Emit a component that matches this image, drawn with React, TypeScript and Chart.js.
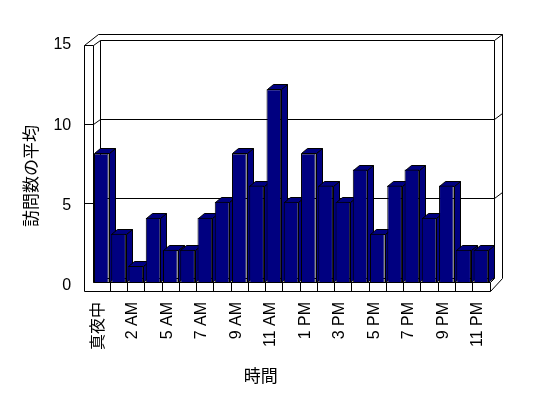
import React, { useEffect, useRef } from "react";
import { Chart, registerables } from "chart.js";

Chart.register(...registerables);

// ---- data ----
const categories = [
  "真夜中", "1 AM", "2 AM", "4 AM", "5 AM", "6 AM", "7 AM", "8 AM", "9 AM", "10 AM", "11 AM", "正午",
  "1 PM", "2 PM", "3 PM", "4 PM", "5 PM", "6 PM", "7 PM", "8 PM", "9 PM", "10 PM", "11 PM",
];
const visitAverages = [8, 3, 1, 4, 2, 2, 4, 5, 8, 6, 12, 5, 8, 6, 5, 7, 3, 6, 7, 4, 6, 2, 2];
const yTickValues = [0, 5, 10, 15];
const gridValues = [5, 10];
const xTitle = "時間";
const yTitle = "訪問数の平均";

// ---- styles ----
const FONT = '"Liberation Sans", "Noto Sans CJK JP", sans-serif';
const BAR_COLOR = "#000080";
const BAR_DX = 6;
const BAR_DY = -5;

const px = (v: number) => Math.round(v) + 0.5;

const threeD = {
  id: "threeD",
  beforeDatasetsDraw(chart: any) {
    const { ctx, chartArea } = chart;
    const { left: L, right: R, top: T, bottom: B } = chartArea;
    const ys = chart.scales.y;
    const bl = L + 7.5, br = R + 4, bt = T - 1, bb = B - 4.5;
    const k = (bb - bt) / (B - T);
    const yb = (v: number) => bb + (ys.getPixelForValue(v) - B) * k;
    const yf = (v: number) => yb(v) + 5;
    const OX = L - 8.5;
    const line = (pts: number[][]) => {
      ctx.beginPath();
      ctx.moveTo(px(pts[0][0]), px(pts[0][1]));
      for (let i = 1; i < pts.length; i++) ctx.lineTo(px(pts[i][0]), px(pts[i][1]));
      ctx.stroke();
    };
    ctx.save();
    ctx.strokeStyle = "#000";
    ctx.lineWidth = 1;
    // back wall
    line([[bl, bt], [br, bt], [br, bb], [bl, bb], [bl, bt]]);
    for (const v of gridValues) line([[bl, yb(v)], [br, yb(v)]]);
    // back wall thickness
    line([[bl - 2, bt - 6], [br + 8, bt - 6], [br + 8, bb]]);
    line([[br, bt], [br + 8, bt - 6]]);
    for (const v of gridValues) line([[br, yb(v)], [br + 8, yb(v) - 6]]);
    // left wall
    const top = yf(yTickValues[yTickValues.length - 1]);
    line([[OX, top], [OX, B + 9]]);
    line([[L, top], [L, B]]);
    line([[OX, top], [L, top], [bl, bt]]);
    line([[OX, top], [bl - 2, bt - 6]]);
    for (const v of gridValues) line([[OX, yf(v)], [L, yf(v)], [bl, yb(v)]]);
    line([[L, B], [bl, bb]]);
    // floor front face
    line([[L, B], [R, B]]);
    line([[OX, B + 9], [R, B + 9]]);
    line([[R, B], [R, B + 9]]);
    const n = categories.length;
    const cw = (R - L) / n;
    for (let i = 1; i < n; i++) line([[L + i * cw, B], [L + i * cw, B + 9]]);
    // floor right side
    line([[R, B], [br, bb]]);
    line([[R, B + 9], [br + 8, bb]]);

    // bar side and top faces
    const meta = chart.getDatasetMeta(0);
    ctx.fillStyle = BAR_COLOR;
    meta.data.forEach((bar: any) => {
      const { x, y, base, width } = bar.getProps(["x", "y", "base", "width"], true);
      const l = Math.round(x - width / 2), r = Math.round(x + width / 2);
      const t = Math.round(y), b = Math.round(base);
      // side
      ctx.beginPath();
      ctx.moveTo(r + 0.5, t + 0.5);
      ctx.lineTo(r + BAR_DX + 0.5, t + BAR_DY + 0.5);
      ctx.lineTo(r + BAR_DX + 0.5, b + BAR_DY + 0.5);
      ctx.lineTo(r + 0.5, b + 0.5);
      ctx.closePath();
      ctx.fill();
      ctx.stroke();
      // top
      ctx.beginPath();
      ctx.moveTo(l + 0.5, t + 0.5);
      ctx.lineTo(l + BAR_DX + 0.5, t + BAR_DY + 0.5);
      ctx.lineTo(r + BAR_DX + 0.5, t + BAR_DY + 0.5);
      ctx.lineTo(r + 0.5, t + 0.5);
      ctx.closePath();
      ctx.fill();
      ctx.stroke();
    });
    ctx.restore();
  },
  afterDraw(chart: any) {
    const { ctx, chartArea } = chart;
    ctx.save();
    ctx.fillStyle = "#000";
    ctx.font = `17px ${FONT}`;
    ctx.textAlign = "center";
    ctx.textBaseline = "middle";
    ctx.fillText(xTitle, chartArea.left + 168, chartArea.bottom + 95);
    ctx.translate(32, chartArea.top + 135);
    ctx.rotate(-Math.PI / 2);
    ctx.fillText(yTitle, 0, 0);
    ctx.restore();
  },
};

export default function App() {
  const ref = useRef<HTMLCanvasElement | null>(null);
  useEffect(() => {
    if (!ref.current) return;
    const chart = new Chart(ref.current, {
      type: "bar",
      data: {
        labels: categories,
        datasets: [
          {
            data: visitAverages,
            backgroundColor: BAR_COLOR,
            borderColor: "#000",
            borderWidth: 1,
            barPercentage: 0.85,
            categoryPercentage: 1,
          },
        ],
      },
      options: {
        responsive: false,
        animation: false,
        events: [],
        layout: { padding: { left: 0, right: 58.5, top: 41, bottom: 0 } },
        plugins: { legend: { display: false }, tooltip: { enabled: false }, title: { display: false } },
        scales: {
          x: {
            grid: { display: false, drawTicks: false },
            border: { display: false },
            ticks: {
              color: "#000",
              font: { family: FONT, size: 16 },
              maxRotation: 90,
              minRotation: 90,
              autoSkip: false,
              padding: 20,
              labelOffset: -3,
              callback: (_v: any, i: number) => (i % 2 === 0 ? categories[i] : ""),
            },
            afterFit: (s: any) => {
              s.height = 398 - 282;
            },
          },
          y: {
            min: 0,
            max: 15,
            grid: { display: false, drawTicks: false },
            border: { display: false },
            afterBuildTicks: (s: any) => {
              s.ticks = yTickValues.map((v) => ({ value: v }));
            },
            ticks: {
              color: "#000",
              font: { family: FONT, size: 16 },
              padding: 21.5,
              labelOffset: 4,
            },
            afterFit: (s: any) => {
              s.width = 92.7;
            },
          },
        },
      },
      plugins: [threeD],
    });
    return () => chart.destroy();
  }, []);
  return (
    <div style={{ position: "absolute", left: 0, top: 0, width: 548, height: 398, background: "#fff" }}>
      <canvas ref={ref} width={548} height={398} style={{ display: "block" }} />
    </div>
  );
}
